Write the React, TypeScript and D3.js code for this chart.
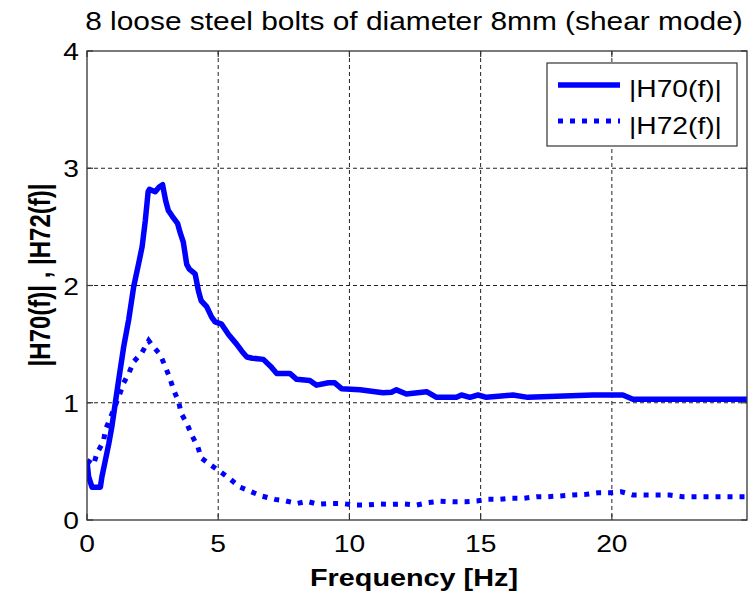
import React from "react";
import * as d3 from "d3";

const titleText = "8 loose steel bolts of diameter 8mm (shear mode)";
const xLabel = "Frequency [Hz]";
const yLabel = "|H70(f)| , |H72(f)|";
const seriesNames = ["|H70(f)|", "|H72(f)|"];
const xTicks = [0, 5, 10, 15, 20];
const yTicks = [0, 1, 2, 3, 4];

const h70Freq = [0, 0.06, 0.19, 0.51, 0.57, 0.7, 0.83, 0.95, 1.08, 1.21, 1.4, 1.59, 1.78, 1.97, 2.1, 2.22, 2.33, 2.38, 2.6, 2.75, 2.88, 3.0, 3.1, 3.25, 3.45, 3.55, 3.67, 3.8, 3.9, 4.12, 4.25, 4.35, 4.56, 4.75, 4.88, 5.13, 5.4, 5.7, 5.9, 6.09, 6.3, 6.72, 7.0, 7.23, 7.73, 7.99, 8.49, 8.75, 9.2, 9.44, 9.7, 10.4, 11.28, 11.6, 11.79, 12.17, 12.94, 13.32, 14.08, 14.27, 14.59, 14.9, 15.22, 16.23, 16.8, 19.28, 20.42, 20.8, 25.15];
const h70Mag = [0.5, 0.37, 0.28, 0.28, 0.37, 0.51, 0.65, 0.8, 1.0, 1.2, 1.48, 1.71, 1.99, 2.19, 2.33, 2.55, 2.8, 2.82, 2.8, 2.84, 2.86, 2.72, 2.64, 2.59, 2.53, 2.45, 2.37, 2.18, 2.14, 2.1, 1.95, 1.87, 1.82, 1.73, 1.69, 1.67, 1.58, 1.5, 1.44, 1.39, 1.38, 1.37, 1.31, 1.25, 1.25, 1.2, 1.19, 1.15, 1.17, 1.17, 1.12, 1.11, 1.085, 1.09, 1.11, 1.074, 1.094, 1.046, 1.046, 1.066, 1.046, 1.066, 1.046, 1.066, 1.046, 1.066, 1.066, 1.03, 1.03];

const h72Freq = [0, 0.25, 0.38, 0.63, 0.7, 0.89, 1.21, 1.4, 1.59, 1.78, 2.1, 2.35, 2.48, 2.79, 2.98, 3.14, 3.3, 3.49, 3.59, 3.81, 4.0, 4.23, 4.35, 4.74, 5.09, 5.45, 5.83, 6.27, 6.65, 7.16, 7.54, 7.99, 8.37, 8.81, 9.26, 9.74, 10.17, 10.65, 11.16, 11.6, 12.11, 12.56, 13.0, 13.44, 13.96, 14.4, 14.85, 15.29, 15.73, 16.17, 16.62, 17.13, 17.57, 18.01, 18.52, 19.03, 19.47, 19.92, 20.36, 20.8, 21.31, 21.75, 22.2, 22.7, 23.2, 24.15, 25.15];
const h72Mag = [0.51, 0.47, 0.57, 0.67, 0.77, 0.87, 1.05, 1.17, 1.25, 1.35, 1.43, 1.53, 1.49, 1.41, 1.31, 1.22, 1.11, 1.01, 0.91, 0.82, 0.72, 0.62, 0.53, 0.465, 0.41, 0.35, 0.28, 0.24, 0.205, 0.176, 0.165, 0.14, 0.16, 0.134, 0.14, 0.14, 0.128, 0.128, 0.136, 0.134, 0.136, 0.128, 0.148, 0.16, 0.156, 0.156, 0.162, 0.176, 0.176, 0.185, 0.185, 0.199, 0.199, 0.205, 0.213, 0.219, 0.233, 0.233, 0.241, 0.213, 0.213, 0.213, 0.213, 0.199, 0.199, 0.199, 0.199];

const W = 749;
const H = 597;
const PL = 87, PR = 747, PT = 51, PB = 520;
const SX = 1.2;
const FONT = "'Liberation Sans', Arial, sans-serif";
const BLUE = "#0000ff";
const AX = "#333333";

function SText(props: { x: number; y: number; size: number; anchor?: string; bold?: boolean; rotate?: boolean; children: React.ReactNode }) {
  const { x, y, size, anchor = "start", bold = false, rotate = false, children } = props;
  return (
    <text
      transform={`translate(${x},${y}) scale(${SX},1)${rotate ? " rotate(-90)" : ""}`}
      fontFamily={FONT}
      fontSize={size}
      fontWeight={bold ? "bold" : "normal"}
      textAnchor={anchor}
      fill="#000"
    >
      {children}
    </text>
  );
}

export default function App() {
  const x = d3.scaleLinear().domain([0, 25.15]).range([PL, PR]);
  const y = d3.scaleLinear().domain([0, 4]).range([PB, PT]);
  const line = d3
    .line<[number, number]>()
    .x((d) => x(d[0]))
    .y((d) => y(d[1]));
  const d70 = line(h70Freq.map((f, i) => [f, h70Mag[i]] as [number, number])) || "";
  const d72 = line(h72Freq.map((f, i) => [f, h72Mag[i]] as [number, number])) || "";

  const tickLen = 6;
  return (
    <svg width={W} height={H} style={{ position: "absolute", left: 0, top: 0, background: "#fff" }}>
      <rect x={0} y={0} width={W} height={H} fill="#fff" />
      <defs>
        <clipPath id="plotclip">
          <rect x={PL} y={PT} width={PR - PL} height={PB - PT} />
        </clipPath>
      </defs>
      {xTicks.filter((t) => t > 0).map((t) => (
        <line key={"gx" + t} x1={x(t)} x2={x(t)} y1={PT} y2={PB} stroke="#222" strokeWidth={1} strokeDasharray="4 3" />
      ))}
      {yTicks.filter((t) => t > 0 && t < 4).map((t) => (
        <line key={"gy" + t} x1={PL} x2={PR} y1={y(t)} y2={y(t)} stroke="#222" strokeWidth={1} strokeDasharray="4 3" />
      ))}
      {xTicks.map((t) => (
        <g key={"tx" + t}>
          <line x1={x(t)} x2={x(t)} y1={PB} y2={PB - tickLen} stroke={AX} strokeWidth={1.2} />
          <line x1={x(t)} x2={x(t)} y1={PT} y2={PT + tickLen} stroke={AX} strokeWidth={1.2} />
        </g>
      ))}
      {yTicks.map((t) => (
        <g key={"ty" + t}>
          <line x1={PL} x2={PL + tickLen} y1={y(t)} y2={y(t)} stroke={AX} strokeWidth={1.2} />
          <line x1={PR} x2={PR - tickLen} y1={y(t)} y2={y(t)} stroke={AX} strokeWidth={1.2} />
        </g>
      ))}
      <g clipPath="url(#plotclip)">
        <path d={d72} fill="none" stroke={BLUE} strokeWidth={5} strokeDasharray="5 7" />
        <path d={d70} fill="none" stroke={BLUE} strokeWidth={5.5} strokeLinejoin="round" />
      </g>
      <rect x={PL} y={PT} width={PR - PL} height={PB - PT} fill="none" stroke={AX} strokeWidth={1.3} />
      {xTicks.map((t) => (
        <SText key={"lx" + t} x={x(t)} y={552} size={23.5} anchor="middle">
          {String(t)}
        </SText>
      ))}
      {yTicks.map((t) => (
        <SText key={"ly" + t} x={79} y={y(t) + 9} size={23.5} anchor="end">
          {String(t)}
        </SText>
      ))}
      <SText x={(PL + PR) / 2 - 3} y={586} size={24} anchor="middle" bold>
        {xLabel}
      </SText>
      <SText x={50} y={275} size={24} anchor="middle" bold rotate>
        {yLabel}
      </SText>
      <SText x={414} y={30} size={24.9} anchor="middle">
        {titleText}
      </SText>
      <rect x={547} y={63} width={190} height={83} fill="#fff" stroke={AX} strokeWidth={1.2} />
      <line x1={558} x2={620} y1={85} y2={85} stroke={BLUE} strokeWidth={5.5} />
      <line x1={558} x2={620} y1={121} y2={121} stroke={BLUE} strokeWidth={5} strokeDasharray="5 7" />
      <SText x={629} y={97} size={23.5}>
        {seriesNames[0]}
      </SText>
      <SText x={629} y={134} size={23.5}>
        {seriesNames[1]}
      </SText>
    </svg>
  );
}
